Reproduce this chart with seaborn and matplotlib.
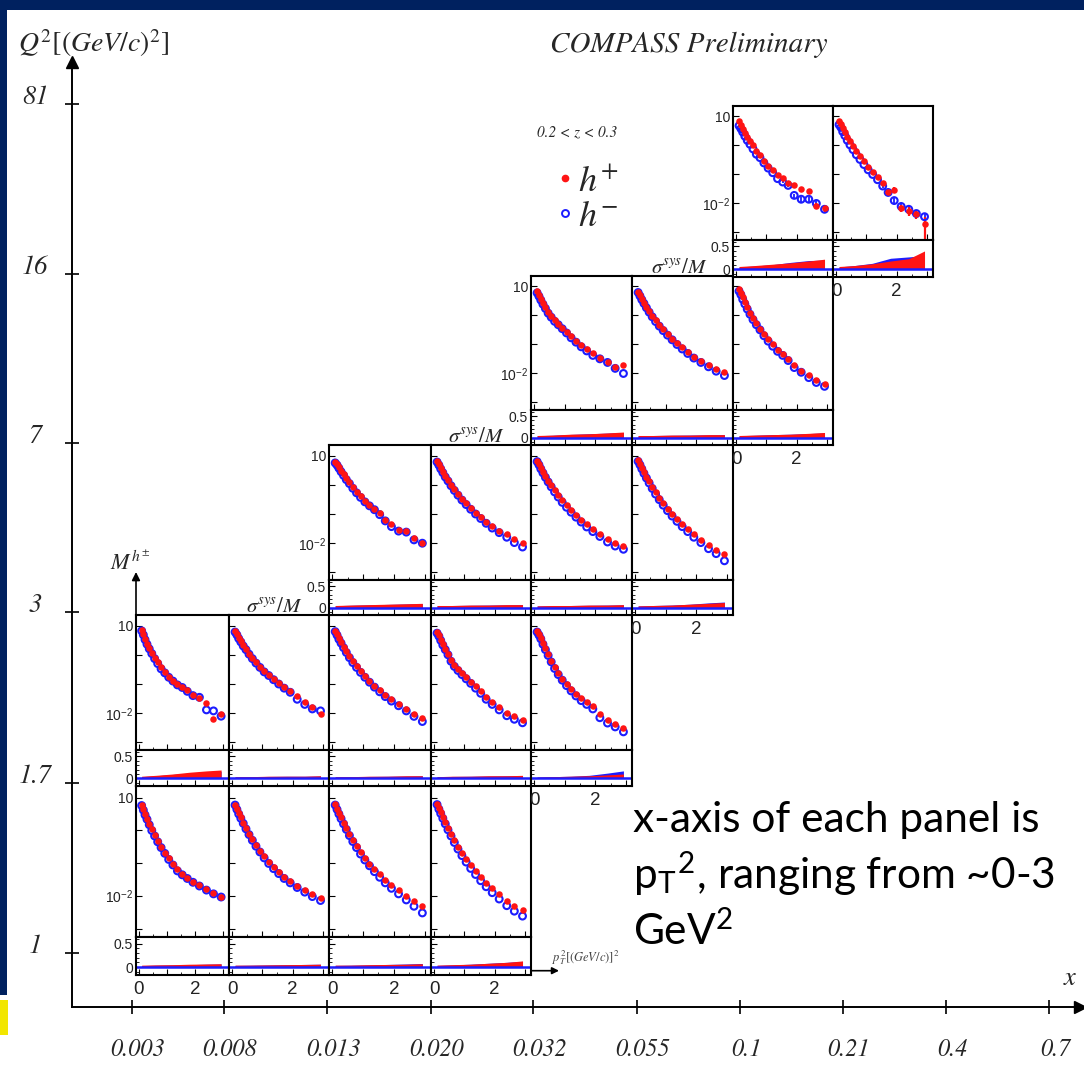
import pandas as pd
import matplotlib.pyplot as plt
import seaborn as sns
from matplotlib.lines import Line2D
from matplotlib.patches import Rectangle
from matplotlib.ticker import NullLocator, MultipleLocator

# ---- data ----
# p_T^2 bin centres (GeV/c)^2, shared by every panel
PT2 = [0.10, 0.16, 0.22, 0.29, 0.37, 0.46, 0.56, 0.67, 0.79, 0.92,
       1.06, 1.21, 1.37, 1.54, 1.72, 1.92, 2.15, 2.40, 2.65, 2.92]

X_LABELS = ['0.003', '0.008', '0.013', '0.020', '0.032', '0.055', '0.1', '0.21', '0.4', '0.7']
Q2_LABELS = ['1', '1.7', '3', '7', '16', '81']

# x bins filled in each Q2 row (row 0 = lowest Q2)
ROW_BINS = [[0, 1, 2, 3], [0, 1, 2, 3, 4], [2, 3, 4, 5], [4, 5, 6], [6, 7]]

# multiplicities M^h+ / M^h-, one list per panel, rows as above
HP_ROW0 = [
    [6.0, 4.4, 3.2, 2.3, 1.6, 1.1, 0.72, 0.48, 0.32, 0.21, 0.14, 0.095, 0.066, 0.048, 0.036, 0.027, 0.021, 0.016, 0.012, 0.0095],
    [6.2, 4.6, 3.4, 2.5, 1.75, 1.2, 0.80, 0.54, 0.36, 0.24, 0.16, 0.11, 0.075, 0.053, 0.038, 0.028, 0.020, 0.015, 0.011, 0.0085],
    [6.3, 4.7, 3.5, 2.5, 1.75, 1.2, 0.78, 0.52, 0.34, 0.22, 0.145, 0.097, 0.066, 0.045, 0.031, 0.022, 0.015, 0.010, 0.0068, 0.0048],
    [6.6, 4.9, 3.6, 2.6, 1.8, 1.2, 0.78, 0.50, 0.32, 0.20, 0.13, 0.085, 0.056, 0.037, 0.025, 0.017, 0.011, 0.0072, 0.0050, 0.0036],
]
HM_ROW0 = [
    [5.8, 4.2, 3.0, 2.2, 1.5, 1.0, 0.68, 0.45, 0.30, 0.20, 0.13, 0.088, 0.058, 0.044, 0.034, 0.026, 0.020, 0.015, 0.0115, 0.0092],
    [6.0, 4.4, 3.2, 2.35, 1.65, 1.12, 0.75, 0.50, 0.33, 0.22, 0.145, 0.098, 0.068, 0.048, 0.034, 0.025, 0.018, 0.013, 0.0095, 0.0072],
    [6.0, 4.4, 3.2, 2.3, 1.6, 1.08, 0.70, 0.46, 0.30, 0.19, 0.125, 0.083, 0.055, 0.037, 0.025, 0.017, 0.0115, 0.0075, 0.0048, 0.0030],
    [6.2, 4.5, 3.3, 2.35, 1.6, 1.05, 0.68, 0.43, 0.27, 0.17, 0.108, 0.069, 0.045, 0.029, 0.019, 0.0125, 0.0080, 0.0050, 0.0034, 0.0024],
]
HP_ROW1 = [
    [6.9, 5.0, 3.5, 2.4, 1.66, 1.15, 0.79, 0.55, 0.37, 0.26, 0.18, 0.13, 0.10, 0.079, 0.060, 0.042, 0.032, 0.023, 0.0065, 0.0091],
    [6.3, 5.0, 3.8, 2.9, 2.1, 1.55, 1.1, 0.78, 0.55, 0.39, 0.28, 0.21, 0.15, 0.11, 0.079, 0.058, 0.040, 0.025, 0.016, 0.0093],
    [6.6, 5.0, 3.7, 2.7, 1.9, 1.3, 0.88, 0.60, 0.41, 0.28, 0.19, 0.13, 0.088, 0.062, 0.043, 0.030, 0.021, 0.014, 0.0095, 0.0066],
    [5.8, 4.6, 3.3, 2.3, 1.6, 1.1, 0.66, 0.44, 0.32, 0.24, 0.17, 0.12, 0.083, 0.056, 0.035, 0.024, 0.016, 0.010, 0.0079, 0.0060],
    [6.3, 5.0, 3.8, 2.5, 1.66, 1.05, 0.63, 0.38, 0.24, 0.15, 0.10, 0.066, 0.045, 0.032, 0.024, 0.017, 0.0095, 0.0060, 0.0044, 0.0032],
]
HM_ROW1 = [
    [6.6, 4.8, 3.3, 2.3, 1.6, 1.1, 0.74, 0.50, 0.33, 0.24, 0.17, 0.126, 0.093, 0.076, 0.056, 0.040, 0.035, 0.013, 0.012, 0.0079],
    [6.0, 4.8, 3.6, 2.75, 2.0, 1.5, 1.05, 0.74, 0.52, 0.37, 0.26, 0.195, 0.14, 0.10, 0.072, 0.052, 0.030, 0.020, 0.014, 0.012],
    [6.2, 4.7, 3.4, 2.5, 1.75, 1.2, 0.80, 0.54, 0.37, 0.25, 0.17, 0.115, 0.078, 0.054, 0.037, 0.026, 0.018, 0.012, 0.0078, 0.0052],
    [5.5, 4.3, 3.1, 2.15, 1.5, 1.0, 0.60, 0.40, 0.29, 0.21, 0.15, 0.105, 0.072, 0.048, 0.030, 0.020, 0.013, 0.0082, 0.0062, 0.0047],
    [6.0, 4.7, 3.5, 2.3, 1.5, 0.95, 0.57, 0.34, 0.21, 0.135, 0.088, 0.058, 0.039, 0.027, 0.020, 0.014, 0.0070, 0.0046, 0.0034, 0.0023],
]
HP_ROW2 = [
    [6.0, 5.0, 4.0, 3.0, 2.3, 1.66, 1.2, 0.83, 0.58, 0.40, 0.28, 0.21, 0.15, 0.105, 0.063, 0.044, 0.028, 0.026, 0.0145, 0.0105],
    [6.3, 5.0, 3.8, 2.8, 2.0, 1.45, 1.0, 0.70, 0.48, 0.33, 0.23, 0.16, 0.11, 0.078, 0.055, 0.039, 0.027, 0.020, 0.014, 0.0105],
    [6.6, 5.1, 3.8, 2.8, 2.0, 1.4, 0.95, 0.64, 0.43, 0.29, 0.20, 0.135, 0.092, 0.064, 0.045, 0.031, 0.021, 0.014, 0.0105, 0.0080],
    [6.9, 5.2, 3.8, 2.7, 1.9, 1.3, 0.85, 0.55, 0.36, 0.23, 0.15, 0.10, 0.067, 0.045, 0.030, 0.020, 0.013, 0.0085, 0.0060, 0.0042],
]
HM_ROW2 = [
    [5.6, 4.7, 3.7, 2.8, 2.1, 1.5, 1.1, 0.76, 0.53, 0.37, 0.26, 0.19, 0.14, 0.095, 0.058, 0.037, 0.026, 0.024, 0.013, 0.010],
    [6.0, 4.7, 3.5, 2.6, 1.85, 1.35, 0.93, 0.64, 0.44, 0.30, 0.21, 0.145, 0.10, 0.070, 0.048, 0.033, 0.023, 0.016, 0.0105, 0.0074],
    [6.2, 4.8, 3.5, 2.55, 1.8, 1.25, 0.85, 0.57, 0.38, 0.25, 0.17, 0.115, 0.078, 0.053, 0.036, 0.025, 0.017, 0.011, 0.0080, 0.0062],
    [6.3, 4.8, 3.5, 2.45, 1.7, 1.15, 0.75, 0.48, 0.31, 0.20, 0.13, 0.085, 0.056, 0.037, 0.025, 0.016, 0.0105, 0.0065, 0.0044, 0.0025],
]
HP_ROW3 = [
    [6.9, 5.2, 3.8, 2.75, 1.9, 1.3, 0.95, 0.69, 0.52, 0.38, 0.28, 0.19, 0.13, 0.095, 0.072, 0.052, 0.035, 0.025, 0.017, 0.020],
    [6.6, 5.0, 3.8, 2.8, 2.0, 1.42, 0.98, 0.68, 0.47, 0.33, 0.23, 0.16, 0.11, 0.080, 0.056, 0.038, 0.026, 0.019, 0.014, 0.0115],
    [7.9, 6.0, 4.2, 2.9, 1.9, 1.26, 0.83, 0.55, 0.35, 0.23, 0.15, 0.10, 0.066, 0.048, 0.032, 0.019, 0.0126, 0.0087, 0.0060, 0.0045],
]
HM_ROW3 = [
    [6.0, 4.6, 3.4, 2.45, 1.75, 1.2, 0.87, 0.63, 0.48, 0.35, 0.25, 0.17, 0.12, 0.083, 0.060, 0.042, 0.032, 0.024, 0.015, 0.010],
    [6.2, 4.7, 3.5, 2.6, 1.85, 1.3, 0.90, 0.62, 0.43, 0.30, 0.21, 0.145, 0.10, 0.070, 0.049, 0.034, 0.024, 0.017, 0.012, 0.0085],
    [6.9, 5.2, 3.6, 2.5, 1.66, 1.1, 0.72, 0.48, 0.32, 0.20, 0.13, 0.087, 0.058, 0.042, 0.028, 0.016, 0.011, 0.0072, 0.0049, 0.0036],
]
HP_ROW4 = [
    [6.8, 5.2, 3.8, 2.75, 2.0, 1.45, 1.0, 0.66, 0.46, 0.30, 0.20, 0.138, 0.095, 0.076, 0.052, 0.042, 0.032, 0.028, 0.0085, 0.0071],
    [7.2, 5.5, 4.0, 2.9, 2.0, 1.4, 0.95, 0.63, 0.44, 0.29, 0.18, 0.12, 0.079, 0.052, 0.025, 0.030, 0.0071, 0.0056, 0.0045, 0.0020],
]
HM_ROW4 = [
    [4.8, 3.8, 2.9, 2.1, 1.5, 1.1, 0.76, 0.50, 0.38, 0.25, 0.166, 0.115, 0.072, 0.055, 0.042, 0.019, 0.014, 0.014, 0.010, 0.0063],
    [5.2, 4.2, 3.0, 2.2, 1.5, 1.05, 0.72, 0.48, 0.33, 0.22, 0.145, 0.10, 0.066, 0.040, 0.024, 0.0126, 0.0079, 0.0063, 0.0045, 0.0035],
]
# statistical errors visible only in the highest Q2 row
HP_ERR_ROW4 = [
    [0, 0, 0, 0, 0, 0, 0, 0, 0, 0, 0, 0, 0, 0.005, 0.004, 0.004, 0.004, 0.004, 0.002, 0.002],
    [0, 0, 0, 0, 0, 0, 0, 0, 0, 0, 0, 0, 0.006, 0.005, 0.004, 0.006, 0.002, 0.002, 0.0015, 0.0014],
]
HM_ERR_ROW4 = [
    [0, 0, 0, 0, 0, 0, 0, 0, 0, 0, 0, 0, 0, 0.005, 0.004, 0.003, 0.003, 0.003, 0.002, 0.0015],
    [0, 0, 0, 0, 0, 0, 0, 0, 0, 0, 0, 0, 0, 0.005, 0.004, 0.003, 0.002, 0.0016, 0.0012, 0.001],
]

# relative systematic uncertainty sigma_sys/M
SYS_PT2 = [0.10, 0.60, 1.20, 1.80, 2.40, 2.92]
SYS_HP_ROW0 = [[0.04, 0.045, 0.05, 0.06, 0.065, 0.07], [0.04, 0.04, 0.045, 0.05, 0.055, 0.06],
               [0.04, 0.04, 0.05, 0.055, 0.06, 0.07], [0.04, 0.05, 0.06, 0.08, 0.10, 0.13]]
SYS_HM_ROW0 = [[0.03, 0.04, 0.045, 0.05, 0.06, 0.065], [0.035, 0.04, 0.045, 0.05, 0.055, 0.06],
               [0.035, 0.04, 0.045, 0.055, 0.065, 0.075], [0.035, 0.045, 0.06, 0.08, 0.10, 0.12]]
SYS_HP_ROW1 = [[0.05, 0.07, 0.10, 0.14, 0.17, 0.19], [0.04, 0.04, 0.05, 0.05, 0.05, 0.06],
               [0.04, 0.04, 0.05, 0.05, 0.06, 0.06], [0.04, 0.05, 0.05, 0.06, 0.06, 0.07],
               [0.03, 0.04, 0.05, 0.06, 0.08, 0.10]]
SYS_HM_ROW1 = [[0.04, 0.06, 0.09, 0.12, 0.15, 0.16], [0.035, 0.04, 0.045, 0.05, 0.05, 0.055],
               [0.035, 0.04, 0.045, 0.05, 0.055, 0.06], [0.035, 0.045, 0.05, 0.055, 0.06, 0.065],
               [0.03, 0.04, 0.05, 0.07, 0.12, 0.17]]
SYS_HP_ROW2 = [[0.05, 0.06, 0.07, 0.08, 0.09, 0.10], [0.05, 0.05, 0.06, 0.06, 0.07, 0.07],
               [0.04, 0.05, 0.05, 0.06, 0.06, 0.07], [0.04, 0.05, 0.06, 0.08, 0.10, 0.12]]
SYS_HM_ROW2 = [[0.045, 0.055, 0.065, 0.075, 0.085, 0.095], [0.045, 0.05, 0.055, 0.06, 0.065, 0.07],
               [0.04, 0.045, 0.05, 0.055, 0.06, 0.065], [0.04, 0.05, 0.06, 0.08, 0.11, 0.13]]
SYS_HP_ROW3 = [[0.05, 0.06, 0.08, 0.09, 0.11, 0.13], [0.05, 0.05, 0.06, 0.06, 0.07, 0.07],
               [0.05, 0.06, 0.07, 0.08, 0.10, 0.12]]
SYS_HM_ROW3 = [[0.045, 0.055, 0.075, 0.09, 0.105, 0.12], [0.045, 0.05, 0.055, 0.06, 0.065, 0.07],
               [0.045, 0.055, 0.07, 0.08, 0.095, 0.11]]
SYS_HP_ROW4 = [[0.06, 0.08, 0.11, 0.14, 0.18, 0.22], [0.06, 0.08, 0.12, 0.18, 0.23, 0.40]]
SYS_HM_ROW4 = [[0.05, 0.07, 0.10, 0.15, 0.19, 0.20], [0.05, 0.08, 0.13, 0.24, 0.27, 0.30]]

HP = [HP_ROW0, HP_ROW1, HP_ROW2, HP_ROW3, HP_ROW4]
HM = [HM_ROW0, HM_ROW1, HM_ROW2, HM_ROW3, HM_ROW4]
SYS_HP = [SYS_HP_ROW0, SYS_HP_ROW1, SYS_HP_ROW2, SYS_HP_ROW3, SYS_HP_ROW4]
SYS_HM = [SYS_HM_ROW0, SYS_HM_ROW1, SYS_HM_ROW2, SYS_HM_ROW3, SYS_HM_ROW4]

# ---- layout (pixels of the 1084x1067 canvas) ----
W, H = 1084, 1067
COL_L = [136, 229, 329, 431, 531, 632, 733, 833]
COL_R = [229, 329, 431, 531, 632, 733, 833, 933]
ROW_T = [786, 615, 445, 276, 106]
ROW_S = [937, 750, 580, 410, 240]
ROW_B = [975, 786, 615, 445, 277]
X_TICK_PX = [131.7, 224, 327.3, 430.7, 533.3, 636.7, 740, 842.7, 946, 1049.3]
Q2_TICK_PX = [953, 783, 612, 443, 274, 104]

RED = '#ff1414'
BLUE = '#1c1cff'
NAVY = '#00215f'


def rect(l, t, r, b):
    return [l / W, 1 - b / H, (r - l) / W, (b - t) / H]


sns.set_style('ticks')
plt.rcParams['font.family'] = ['Liberation Sans', 'DejaVu Sans']
plt.rcParams['mathtext.fontset'] = 'stix'
serif = dict(family='STIXGeneral', style='italic')

fig = plt.figure(figsize=(W / 100, H / 100), dpi=100)

# slide background bits
deco = fig.add_axes([0, 0, 1, 1], zorder=-5)
deco.set_xlim(0, W)
deco.set_ylim(H, 0)
deco.axis('off')
deco.add_patch(Rectangle((0, 0), W, 10, color=NAVY, lw=0))
deco.add_patch(Rectangle((0, 0), 7, 995, color=NAVY, lw=0))
deco.add_patch(Rectangle((0, 1000), 8, 35, color='#f2e600', lw=0))

# outer x / Q2 axes
frame = fig.add_axes(rect(72, 62, 1080, 1006.7), zorder=-4)
frame.patch.set_alpha(0)
frame.set_xlim(72, 1080)
frame.set_ylim(1006.7, 62)
frame.spines['top'].set_visible(False)
frame.spines['right'].set_visible(False)
for s in ['left', 'bottom']:
    frame.spines[s].set_linewidth(1.4)
    frame.spines[s].set_color('k')
frame.set_xticks(X_TICK_PX)
frame.set_yticks(Q2_TICK_PX)
frame.tick_params(direction='inout', length=10, width=1.2, color='k',
                  labelbottom=False, labelleft=False)
frame.plot(1, 0, '>k', ms=8, transform=frame.transAxes, clip_on=False)
frame.plot(0, 1, '^k', ms=8, transform=frame.transAxes, clip_on=False)

for px, lab in zip(X_TICK_PX, X_LABELS):
    deco.text(px + 6, 1050, lab, ha='center', va='center', fontsize=17.5, **serif)
for py, lab in zip(Q2_TICK_PX, Q2_LABELS):
    deco.text(35, py, lab, ha='center', va='baseline', fontsize=19, **serif)

deco.text(18, 52, r'$Q^2[(GeV/c)^2]$', fontsize=20, ha='left', va='baseline')
deco.text(550, 52, 'COMPASS Preliminary', fontsize=21, ha='left', va='baseline', **serif)
deco.text(577, 132, '0.2 < z < 0.3', fontsize=11, ha='center', va='center', **serif)
deco.text(1070, 985, 'x', fontsize=19, ha='center', va='baseline', **serif)
deco.text(110, 570, r'$M^{h^{\pm}}$', fontsize=16, ha='left', va='baseline')
deco.annotate('', xy=(136, 572), xytext=(136, 614),
              arrowprops=dict(arrowstyle='-|>', color='k', lw=1.2, mutation_scale=12,
                              shrinkA=0, shrinkB=0))
deco.text(552, 961, r'$p_T^2[(GeV/c)]^2$', fontsize=9, color='#444', ha='left', va='baseline')
deco.annotate('', xy=(559, 970.7), xytext=(531, 970.7),
              arrowprops=dict(arrowstyle='-|>', color='k', lw=1.2, mutation_scale=10,
                              shrinkA=0, shrinkB=0))

note = dict(family=['Lato', 'DejaVu Sans'], fontsize=30.5, ha='left', va='baseline', color='k')
deco.text(633, 832, 'x-axis of each panel is', **note)
deco.text(633, 889, r'p$_{\mathregular{T}}$$^{\mathregular{2}}$, ranging from ~0-3', **note)
deco.text(633, 945, r'GeV$^{\mathregular{2}}$', **note)

handles = [Line2D([], [], ls='', marker='o', ms=4.5, color=RED, mec=RED),
           Line2D([], [], ls='', marker='o', ms=5, mfc='none', mec=BLUE, mew=1.4)]
fig.legend(handles, [r'$h^{+}$', r'$h^{-}$'], loc='upper left',
           bbox_to_anchor=(556 / W, 1 - 164 / H), frameon=False, fontsize=26,
           handlelength=0.5, handletextpad=0.1, labelspacing=0.0,
           borderpad=0, borderaxespad=0)


def style_axis(ax):
    ax.set(xlabel='', ylabel='')
    ax.set_xlim(-0.1, 3.2)
    ax.xaxis.set_minor_locator(MultipleLocator(0.5))
    for s in ax.spines.values():
        s.set_visible(True)
        s.set_linewidth(1.5)
        s.set_color('k')
    ax.tick_params(which='both', direction='in', top=False, right=False,
                   bottom=True, left=True, labelbottom=False, labelleft=False,
                   color='k', labelcolor='#222', labelsize=10, pad=2)
    ax.tick_params(which='major', length=4, width=0.8)
    ax.tick_params(which='minor', length=2, width=0.6)


for r, bins in enumerate(ROW_BINS):
    for k, c in enumerate(bins):
        first = k == 0
        open_bottom = r == 0 or c not in ROW_BINS[r - 1]
        axm = fig.add_axes(rect(COL_L[c], ROW_T[r], COL_R[c], ROW_S[r]))
        axr = fig.add_axes(rect(COL_L[c], ROW_S[r], COL_R[c], ROW_B[r]))

        pts = pd.DataFrame({'pt2': PT2, 'hp': HP[r][k], 'hm': HM[r][k]})
        if r == 4:
            axm.errorbar(PT2, HM[r][k], yerr=HM_ERR_ROW4[k], fmt='none', ecolor=BLUE, elinewidth=1.3, zorder=2)
            axm.errorbar(PT2, HP[r][k], yerr=HP_ERR_ROW4[k], fmt='none', ecolor=RED, elinewidth=1.6, zorder=2)
        sns.scatterplot(data=pts, x='pt2', y='hm', ax=axm, s=24, facecolor='none',
                        edgecolor=BLUE, linewidth=1.5, legend=False, zorder=3)
        sns.scatterplot(data=pts, x='pt2', y='hp', ax=axm, s=22, color=RED,
                        linewidth=0, legend=False, zorder=4)
        axm.set_yscale('log')
        axm.set_ylim(5.5e-4, 23)
        axm.set_yticks([1e-3, 1e-2, 1e-1, 1, 10],
                       labels=['', r'10$^{\mathregular{-2}}$', '', '', '10'])
        axm.yaxis.set_minor_locator(NullLocator())
        axm.set_xticks([0, 1, 2, 3])
        style_axis(axm)

        axr.fill_between(SYS_PT2, 0, SYS_HM[r][k], color=BLUE, lw=0)
        axr.fill_between(SYS_PT2, 0, SYS_HP[r][k], color=RED, lw=0)
        axr.axhline(0, color=BLUE, lw=1.8)
        axr.set_ylim(-0.17, 0.64)
        axr.set_yticks([0, 0.5], labels=['0', '0.5'])
        axr.yaxis.set_minor_locator(MultipleLocator(0.1))
        axr.set_xticks([0, 1, 2, 3], labels=['0', '', '2', ''])
        style_axis(axr)

        if first:
            axm.tick_params(labelleft=True)
            axr.tick_params(labelleft=True)
            if r >= 2:
                axr.text(-0.26, 0.03, r'$\sigma^{sys}/M$', transform=axr.get_yaxis_transform(),
                         ha='right', va='center', fontsize=15)
        if open_bottom:
            axr.tick_params(axis='x', labelbottom=True, labelsize=13.5, pad=4)

fig.savefig('out.png', dpi=100)
